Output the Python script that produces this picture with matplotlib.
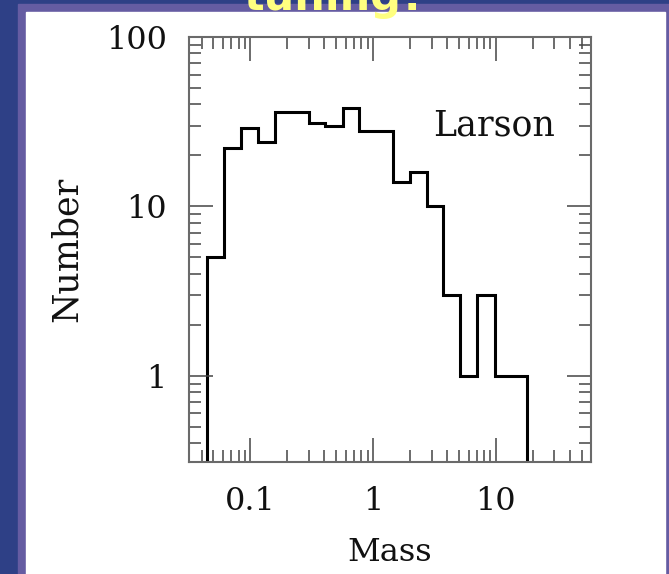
import matplotlib
matplotlib.use("Agg")
import matplotlib.pyplot as plt
from matplotlib import ticker
from matplotlib.patches import Rectangle

# bin edges (mass) and counts
mass_edges = [0.0441, 0.0614, 0.0839, 0.1148, 0.159, 0.218, 0.2985, 0.408,
              0.565, 0.773, 1.057, 1.445, 1.977, 2.735, 3.74, 5.05, 7.05,
              9.75, 13.2, 17.9]
counts = [5, 22, 29, 24, 36, 36, 31, 30, 38, 28, 28, 14, 16, 10, 3, 1, 3, 1, 1]

x_ticks = [0.1, 1, 10]
y_ticks = [1, 10, 100]

W, H = 669, 574
fig = plt.figure(figsize=(W / 100, H / 100), dpi=100)
fig.patch.set_facecolor("#2e4086")

# slide frame: purple band then white panel
fig.add_artist(Rectangle((18 / W, 0), 1 - 18 / W, (H - 4) / H,
                         transform=fig.transFigure, color="#655ca2", zorder=0))
fig.add_artist(Rectangle((26 / W, 0), (665 - 26) / W, (H - 12) / H,
                         transform=fig.transFigure, color="white", zorder=0))

ax = fig.add_axes([189 / W, (H - 462) / H, 402 / W, 425 / H])
ax.set_xscale("log")
ax.set_yscale("log")
ax.set_xlim(0.0316, 59.5)
ax.set_ylim(0.31, 100)

ax.stairs(counts, mass_edges, baseline=0, color="black", lw=2.2)

serif = "DejaVu Serif"
ax.xaxis.set_major_locator(ticker.FixedLocator(x_ticks))
ax.yaxis.set_major_locator(ticker.FixedLocator(y_ticks))
fmt = ticker.FuncFormatter(lambda v, p: f"{v:g}")
ax.xaxis.set_major_formatter(fmt)
ax.yaxis.set_major_formatter(fmt)
ax.xaxis.set_minor_locator(ticker.LogLocator(subs=range(2, 10), numticks=20))
ax.yaxis.set_minor_locator(ticker.LogLocator(subs=range(2, 10), numticks=20))
ax.xaxis.set_minor_formatter(ticker.NullFormatter())
ax.yaxis.set_minor_formatter(ticker.NullFormatter())

ax.tick_params(which="both", direction="in", top=True, right=True,
               color="#444444", width=1.1)
ax.tick_params(which="major", length=17)
ax.tick_params(which="minor", length=8.6)
ax.tick_params(axis="x", which="major", pad=17)
ax.tick_params(axis="y", which="major", pad=16)
for lab in ax.get_xticklabels() + ax.get_yticklabels():
    lab.set_fontfamily(serif)
    lab.set_fontsize(23)
    lab.set_color("#111111")

for sp in ax.spines.values():
    sp.set_color("#6a6a6a")
    sp.set_linewidth(1.5)

ax.set_xlabel("Mass", fontfamily=serif, fontsize=23, color="#111111")
ax.set_ylabel("Number", fontfamily=serif, fontsize=25, color="#111111")
ax.xaxis.set_label_coords(0.5, -0.177)
ax.yaxis.set_label_coords(-0.262, 0.5)

ax.text(0.607, 0.769, "Larson", transform=ax.transAxes, ha="left",
        va="baseline", fontfamily=serif, fontsize=25, color="#111111")

# slide title, mostly cut off by the top edge
fig.text(243 / W, (H - 10) / H, "tuning?", ha="left", va="baseline",
         fontfamily="DejaVu Sans", fontweight="bold", fontsize=31,
         color="#ffff80", zorder=5)

fig.savefig("out.png", dpi=100, facecolor=fig.get_facecolor())
